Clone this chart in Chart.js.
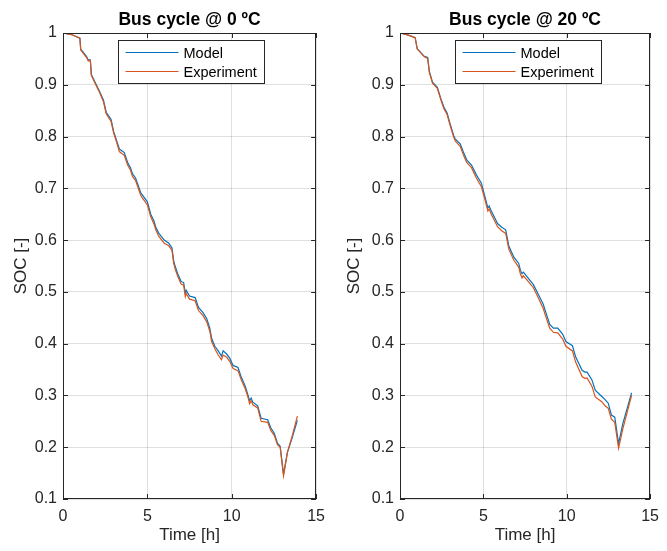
<!DOCTYPE html>
<html>
<head>
<meta charset="utf-8">
<script src="https://cdn.jsdelivr.net/npm/chart.js@4"></script>
<style>
  body { margin: 0; background: #fff; }
  .box { position: absolute; top: 0; }
</style>
</head>
<body>
<div class="box" style="left:0"><canvas id="chart0" width="333" height="551"></canvas></div>
<div class="box" style="left:333px"><canvas id="chart20" width="334" height="551"></canvas></div>
<script>
// chart data, [time h, SOC]
const titles = ['Bus cycle @ 0 ºC', 'Bus cycle @ 20 ºC'];
const seriesNames = ['Model', 'Experiment'];
const xTicks = [0, 5, 10, 15];
const yTicks = [0.1, 0.2, 0.3, 0.4, 0.5, 0.6, 0.7, 0.8, 0.9, 1];

const model0 = [[0,1.0],[0.5,0.997],[1.0,0.99],[1.05,0.969],[1.39,0.955],[1.5,0.948],[1.62,0.948],[1.68,0.92],
  [1.9,0.905],[2.17,0.887],[2.4,0.87],[2.56,0.847],[2.85,0.833],[3.0,0.81],[3.15,0.795],[3.34,0.776],[3.5,0.772],
  [3.63,0.769],[3.83,0.75],[4.0,0.74],[4.12,0.728],[4.3,0.72],[4.41,0.71],[4.6,0.692],[4.71,0.687],[5.0,0.674],
  [5.2,0.65],[5.39,0.637],[5.5,0.625],[5.68,0.613],[6.0,0.6],[6.27,0.594],[6.46,0.585],[6.56,0.56],[6.66,0.548],
  [6.8,0.535],[7.0,0.52],[7.15,0.518],[7.25,0.497],[7.3,0.503],[7.5,0.492],[7.83,0.489],[8.03,0.47],[8.3,0.46],
  [8.52,0.448],[8.7,0.43],[8.81,0.41],[9.0,0.395],[9.2,0.386],[9.39,0.376],[9.49,0.386],[9.7,0.38],[9.88,0.372],
  [10.08,0.358],[10.37,0.354],[10.57,0.335],[10.8,0.318],[10.96,0.301],[11.06,0.29],[11.15,0.295],[11.25,0.287],
  [11.54,0.28],[11.74,0.256],[12.13,0.253],[12.32,0.237],[12.52,0.227],[12.71,0.208],[12.87,0.202],[13.07,0.148],
  [13.3,0.19],[13.6,0.22],[13.89,0.252]];
const exp0 = [[0,1.0],[0.5,0.997],[1.0,0.99],[1.05,0.967],[1.39,0.953],[1.5,0.946],[1.62,0.947],[1.68,0.918],
  [1.9,0.903],[2.17,0.885],[2.4,0.867],[2.56,0.844],[2.85,0.829],[3.0,0.807],[3.15,0.792],[3.34,0.771],[3.5,0.767],
  [3.63,0.764],[3.83,0.745],[4.0,0.735],[4.12,0.723],[4.3,0.715],[4.41,0.705],[4.6,0.687],[4.71,0.681],[5.0,0.668],
  [5.2,0.645],[5.39,0.631],[5.5,0.62],[5.68,0.607],[6.0,0.594],[6.27,0.589],[6.46,0.58],[6.56,0.555],[6.66,0.543],
  [6.8,0.53],[7.0,0.515],[7.15,0.513],[7.25,0.491],[7.3,0.497],[7.5,0.486],[7.83,0.483],[8.03,0.464],[8.3,0.454],
  [8.52,0.442],[8.7,0.424],[8.81,0.404],[9.0,0.39],[9.2,0.378],[9.39,0.369],[9.49,0.378],[9.7,0.374],[9.88,0.366],
  [10.08,0.352],[10.37,0.348],[10.57,0.33],[10.8,0.313],[10.96,0.297],[11.06,0.284],[11.15,0.29],[11.25,0.282],
  [11.54,0.276],[11.74,0.25],[12.13,0.248],[12.32,0.232],[12.52,0.223],[12.71,0.205],[12.87,0.2],[13.07,0.145],
  [13.3,0.19],[13.6,0.224],[13.89,0.26]];

const model20 = [[0,1.0],[0.5,0.996],[0.91,0.991],[1.03,0.97],[1.46,0.955],[1.66,0.953],[1.76,0.926],[1.95,0.905],
  [2.24,0.895],[2.45,0.873],[2.63,0.857],[2.83,0.845],[3.0,0.825],[3.22,0.802],[3.32,0.795],[3.61,0.786],[3.8,0.77],
  [4.0,0.755],[4.29,0.745],[4.58,0.726],[4.88,0.71],[5.07,0.687],[5.27,0.662],[5.35,0.666],[5.46,0.657],[5.85,0.632],
  [6.1,0.625],[6.34,0.62],[6.53,0.588],[6.83,0.567],[7.12,0.555],[7.22,0.542],[7.32,0.535],[7.4,0.538],[7.7,0.526],
  [8.0,0.514],[8.3,0.495],[8.59,0.476],[8.8,0.455],[8.98,0.437],[9.2,0.43],[9.46,0.43],[9.76,0.418],[9.95,0.404],
  [10.34,0.396],[10.54,0.374],[10.93,0.348],[11.1,0.345],[11.22,0.345],[11.51,0.33],[11.71,0.31],[12.1,0.298],
  [12.3,0.292],[12.49,0.285],[12.68,0.262],[12.88,0.258],[13.11,0.207],[13.36,0.245],[13.89,0.305]];
const exp20 = [[0,1.0],[0.5,0.996],[0.91,0.991],[1.03,0.969],[1.46,0.954],[1.66,0.951],[1.76,0.924],[1.95,0.903],
  [2.24,0.893],[2.45,0.871],[2.63,0.854],[2.83,0.842],[3.0,0.822],[3.22,0.799],[3.32,0.791],[3.61,0.781],[3.8,0.765],
  [4.0,0.75],[4.29,0.74],[4.58,0.72],[4.88,0.703],[5.07,0.681],[5.27,0.656],[5.35,0.66],[5.46,0.651],[5.85,0.626],
  [6.1,0.618],[6.34,0.613],[6.53,0.582],[6.83,0.561],[7.12,0.548],[7.22,0.535],[7.32,0.527],[7.4,0.531],[7.7,0.52],
  [8.0,0.508],[8.3,0.488],[8.59,0.468],[8.8,0.447],[8.98,0.43],[9.2,0.422],[9.46,0.421],[9.76,0.409],[9.95,0.395],
  [10.34,0.386],[10.54,0.364],[10.93,0.336],[11.1,0.333],[11.22,0.334],[11.51,0.318],[11.71,0.297],[12.1,0.288],
  [12.3,0.28],[12.49,0.275],[12.68,0.254],[12.88,0.248],[13.11,0.198],[13.36,0.235],[13.89,0.3]];

const colors = ['#0072BD', '#D95319'];
const font = 'Arial, "Liberation Sans", sans-serif';

// title, axes box with inward ticks, legend box (matlab look)
const matlabPlugin = {
    id: 'matlab',
    afterDraw(chart, args, opts) {
        const ctx = chart.ctx;
        const a = chart.chartArea;
        const xs = chart.scales.x, ys = chart.scales.y;
        ctx.save();
        ctx.strokeStyle = '#262626';
        ctx.lineWidth = 1;
        ctx.strokeRect(Math.round(a.left) + 0.5, Math.round(a.top) + 0.5,
            Math.round(a.right - a.left) - 1, Math.round(a.bottom - a.top) - 1);
        ctx.beginPath();
        xTicks.forEach(v => {
            const px = Math.round(xs.getPixelForValue(v)) + 0.5;
            ctx.moveTo(px, a.bottom); ctx.lineTo(px, a.bottom - 5);
            ctx.moveTo(px, a.top); ctx.lineTo(px, a.top + 5);
        });
        yTicks.forEach(v => {
            const py = Math.round(ys.getPixelForValue(v)) + 0.5;
            ctx.moveTo(a.left, py); ctx.lineTo(a.left + 5, py);
            ctx.moveTo(a.right, py); ctx.lineTo(a.right - 5, py);
        });
        ctx.stroke();

        // title
        ctx.fillStyle = '#000';
        ctx.font = 'bold 17.5px ' + font;
        ctx.textAlign = 'center';
        ctx.textBaseline = 'alphabetic';
        ctx.fillText(opts.title, (a.left + a.right) / 2, 25);

        // legend
        const lx = Math.round(a.left + 55) + 0.5, ly = Math.round(a.top + 7) + 0.5;
        ctx.fillStyle = '#fff';
        ctx.fillRect(lx, ly, 146, 43);
        ctx.strokeStyle = '#262626';
        ctx.strokeRect(lx, ly, 146, 43);
        ctx.font = '14.5px ' + font;
        ctx.textAlign = 'left';
        ctx.textBaseline = 'middle';
        chart.data.datasets.forEach((ds, i) => {
            const y = ly + 12 + i * 19;
            ctx.strokeStyle = ds.borderColor;
            ctx.lineWidth = 1.2;
            ctx.beginPath();
            ctx.moveTo(lx + 7, y); ctx.lineTo(lx + 60, y);
            ctx.stroke();
            ctx.fillStyle = '#000';
            ctx.fillText(ds.label, lx + 65, y + 1);
        });
        ctx.restore();
    }
};

function makeChart(id, title, model, exp, yWidth, padRight) {
    const ctx = document.getElementById(id).getContext('2d');
    return new Chart(ctx, {
        type: 'line',
        data: {
            datasets: [{
                label: seriesNames[0],
                data: model.map(p => ({ x: p[0], y: p[1] })),
                borderColor: colors[0],
                borderWidth: 1.2,
                pointRadius: 0,
                order: 1
            }, {
                label: seriesNames[1],
                data: exp.map(p => ({ x: p[0], y: p[1] })),
                borderColor: colors[1],
                borderWidth: 1.2,
                pointRadius: 0,
                order: 0
            }]
        },
        options: {
            responsive: false,
            animation: false,
            layout: { padding: { top: 33, right: padRight, bottom: 0, left: 0 } },
            plugins: {
                legend: { display: false },
                tooltip: { enabled: false },
                matlab: { title: title }
            },
            scales: {
                x: {
                    type: 'linear',
                    min: 0, max: 15,
                    afterBuildTicks: s => { s.ticks = xTicks.map(v => ({ value: v })); },
                    afterFit: s => { s.height = 52; },
                    grid: { color: 'rgba(38,38,38,0.15)', drawTicks: false },
                    border: { display: false },
                    ticks: { color: '#262626', padding: 8, maxRotation: 0, font: { family: font, size: 16 } },
                    title: { display: true, text: 'Time [h]', color: '#262626', padding: { top: 0, bottom: 5 },
                        font: { family: font, size: 17 } }
                },
                y: {
                    min: 0.1, max: 1,
                    afterBuildTicks: s => { s.ticks = yTicks.map(v => ({ value: v })); },
                    afterFit: s => { s.width = yWidth; },
                    grid: { color: 'rgba(38,38,38,0.15)', drawTicks: false },
                    border: { display: false },
                    ticks: { color: '#262626', padding: 6, font: { family: font, size: 16 },
                        callback: v => String(+v.toFixed(1)) },
                    title: { display: true, text: 'SOC [-]', color: '#262626', padding: { top: 11, bottom: 0 },
                        font: { family: font, size: 17 } }
                }
            }
        },
        plugins: [matlabPlugin]
    });
}

makeChart('chart0', titles[0], model0, exp0, 63, 14);
makeChart('chart20', titles[1], model20, exp20, 67, 11);
</script>
</body>
</html>
